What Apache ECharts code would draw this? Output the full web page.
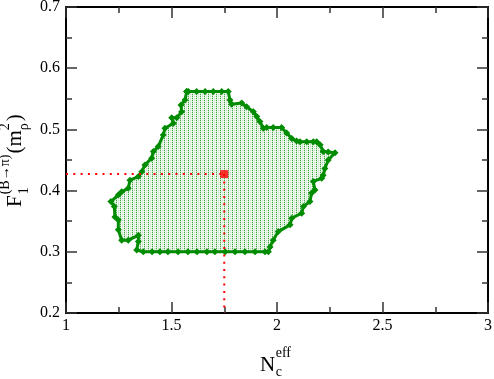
<!DOCTYPE html>
<html><head><meta charset="utf-8">
<style>html,body{margin:0;padding:0;background:#fff}#c{width:494px;height:379px}</style>
<script src="https://cdn.jsdelivr.net/npm/echarts@6.0.0/dist/echarts.min.js"></script>
</head><body><div id="c"></div>
<script>
// Boundary of the allowed region (N_c^eff, F1), clockwise from top-left
const boundaryX = [1.572,1.580,1.619,1.659,1.698,1.738,1.769,1.777,1.785,1.833,1.856,1.888,1.904,1.919,1.935,1.951,1.982,2.022,2.046,2.070,2.093,2.109,2.141,2.172,2.188,2.204,2.219,2.243,2.275,2.243,2.227,2.219,2.212,2.172,2.180,2.164,2.156,2.125,2.117,2.070,2.062,2.006,1.982,1.967,1.959,1.943,1.896,1.848,1.801,1.754,1.706,1.668,1.621,1.578,1.531,1.483,1.445,1.408,1.366,1.335,1.343,1.343,1.295,1.264,1.248,1.248,1.232,1.229,1.213,1.248,1.264,1.295,1.303,1.343,1.359,1.374,1.406,1.414,1.437,1.461,1.469,1.509,1.501,1.525,1.548,1.545,1.564];
const boundaryY = [0.562,0.562,0.562,0.562,0.562,0.562,0.562,0.548,0.541,0.543,0.537,0.529,0.521,0.513,0.502,0.503,0.503,0.503,0.494,0.485,0.481,0.480,0.480,0.480,0.480,0.475,0.464,0.463,0.462,0.450,0.436,0.425,0.420,0.415,0.401,0.396,0.382,0.374,0.363,0.355,0.344,0.333,0.319,0.308,0.300,0.300,0.300,0.300,0.300,0.300,0.300,0.300,0.300,0.300,0.300,0.300,0.300,0.300,0.300,0.303,0.317,0.327,0.319,0.319,0.336,0.352,0.357,0.374,0.382,0.393,0.398,0.404,0.417,0.423,0.431,0.442,0.453,0.464,0.472,0.491,0.502,0.510,0.519,0.519,0.529,0.540,0.548];
// central value
const pointX = [1.75];
const pointY = [0.427];
// axes
const xRange = [1, 3];
const yRange = [0.2, 0.7];
const xStep = 0.5;
const yStep = 0.1;
const xTickLabels = ['1','1.5','2','2.5','3'];
const yTickLabels = ['0.2','0.3','0.4','0.5','0.6','0.7'];
// axis titles: N_c^eff and F_1^(B->pi)(m_rho^2)
const xNameParts = ['N','c','eff'];
const yNameParts = ['F','1','(B\u2192\u03c0)','(m','\u03c1','2',')'];

const SERIF = '"Liberation Serif"';
const GREEN = '#008c00';
const RED = '#ff0000';
const MAIN = 21, SUB = 14;
const MID = 0.3375; // baseline offset below the em middle, in em

function font(size){ return size + 'px ' + SERIF; }
function tw(text, size){
  const cv = document.createElement('canvas').getContext('2d');
  cv.font = font(size);
  return cv.measureText(text).width;
}

// fill pattern: vertical dotted green lines alternating with white / pale columns
const pc = document.createElement('canvas'); pc.width = 4; pc.height = 2;
const pg = pc.getContext('2d');
pg.fillStyle = '#ffffff'; pg.fillRect(0,0,4,2);
pg.fillStyle = '#3fa63f'; pg.fillRect(0,0,1,1);
pg.fillStyle = '#c4e3c4'; pg.fillRect(0,1,1,1); pg.fillRect(2,0,1,1);
pg.fillStyle = '#e4f3e4'; pg.fillRect(2,1,1,1); pg.fillRect(1,1,1,1); pg.fillRect(3,0,1,1);
const pattern = {image: pc, repeat: 'repeat'};

// text piece placed by its baseline (local coordinates)
function piece(text, size, x, baseline){
  return {type: 'text', x: x, y: baseline - MID * size, silent: true,
    style: {text: text, font: font(size), fill: '#000', textAlign: 'left', textVerticalAlign: 'middle'}};
}
// x title
const wN = tw(xNameParts[0], MAIN);
const xTitle = {type: 'group', x: 260, y: 373, children: [
  piece(xNameParts[0], MAIN, 0, 0),
  piece(xNameParts[1], SUB, wN + 0.5, 4),
  piece(xNameParts[2], SUB, wN + 0.5, -15)
]};
// y title, rotated to read bottom-up
const wF = tw(yNameParts[0], MAIN);
const w1 = Math.max(tw(yNameParts[1], SUB), tw(yNameParts[2], SUB)) + 2;
const wm = tw(yNameParts[3], MAIN);
const wr = Math.max(tw(yNameParts[4], SUB), tw(yNameParts[5], SUB)) + 2;
const yTitle = {type: 'group', x: 23, y: 207, rotation: Math.PI / 2, children: [
  piece(yNameParts[0], MAIN, 0, 0),
  piece(yNameParts[1], SUB, wF + 1, 6),
  piece(yNameParts[2], SUB, wF + 1, -13),
  piece(yNameParts[3], MAIN, wF + w1, 0),
  piece(yNameParts[4], SUB, wF + w1 + wm, 6),
  piece(yNameParts[5], SUB, wF + w1 + wm, -13),
  piece(yNameParts[6], MAIN, wF + w1 + wm + wr, 0)
]};

function axisCommon(extra){
  return Object.assign({
    type: 'value',
    axisLine: {show: true, onZero: false, lineStyle: {color: '#000', width: 2}},
    axisTick: {show: true, inside: true, length: 11, lineStyle: {color: '#333', width: 1.5}},
    minorTick: {show: true, splitNumber: 2, length: 6, lineStyle: {color: '#333', width: 1.5}},
    splitLine: {show: false},
    minorSplitLine: {show: false}
  }, extra);
}
const labelStyle = {fontFamily: 'Liberation Serif', fontSize: 16, color: '#000', showMinLabel: true, showMaxLabel: true};

const boundaryData = boundaryX.map((x, i) => [x, boundaryY[i]]);
boundaryData.push([boundaryX[0], boundaryY[0]]);

const chart = echarts.init(document.getElementById('c'), null, {renderer: 'canvas'});
chart.setOption({
  animation: false,
  backgroundColor: '#fff',
  grid: {left: 66, right: 6, top: 7, bottom: 66, containLabel: false, outerBoundsMode: 'none'},
  graphic: [xTitle, yTitle],
  xAxis: [
    axisCommon({position: 'bottom', min: xRange[0], max: xRange[1], interval: xStep,
      axisLabel: Object.assign({margin: 5, formatter: v => xTickLabels[Math.round((v - xRange[0]) / xStep)]}, labelStyle)}),
    axisCommon({position: 'top', min: xRange[0], max: xRange[1], interval: xStep, axisLabel: {show: false}})
  ],
  yAxis: [
    axisCommon({position: 'left', min: yRange[0], max: yRange[1], interval: yStep,
      axisLabel: Object.assign({margin: 6, formatter: v => yTickLabels[Math.round((v - yRange[0]) / yStep)]}, labelStyle)}),
    axisCommon({position: 'right', min: yRange[0], max: yRange[1], interval: yStep, axisLabel: {show: false}})
  ],
  series: [
    {
      type: 'custom', coordinateSystem: 'cartesian2d', silent: true, z: 1,
      data: [[boundaryX[0], boundaryY[0]]],
      renderItem: (params, api) => ({
        type: 'polygon',
        shape: {points: boundaryX.map((x, i) => api.coord([x, boundaryY[i]]))},
        style: {fill: pattern, stroke: null}
      })
    },
    {
      type: 'line', data: boundaryData, z: 3, silent: true,
      symbol: 'diamond', symbolSize: 7, showSymbol: true,
      itemStyle: {color: GREEN},
      lineStyle: {color: GREEN, width: 3}
    },
    {
      type: 'line', z: 4, silent: true, symbol: 'none',
      data: [[xRange[0], pointY[0]], [pointX[0], pointY[0]]],
      lineStyle: {color: RED, width: 2, type: [2, 5.3]}
    },
    {
      type: 'line', z: 4, silent: true, symbol: 'none',
      data: [[pointX[0], pointY[0]], [pointX[0], yRange[0]]],
      lineStyle: {color: RED, width: 2, type: [2, 5.3]}
    },
    {
      type: 'scatter', z: 5, silent: true,
      data: pointX.map((x, i) => [x, pointY[i]]),
      symbol: 'rect', symbolSize: 8, itemStyle: {color: RED}
    }
  ]
});
</script>
</body></html>
